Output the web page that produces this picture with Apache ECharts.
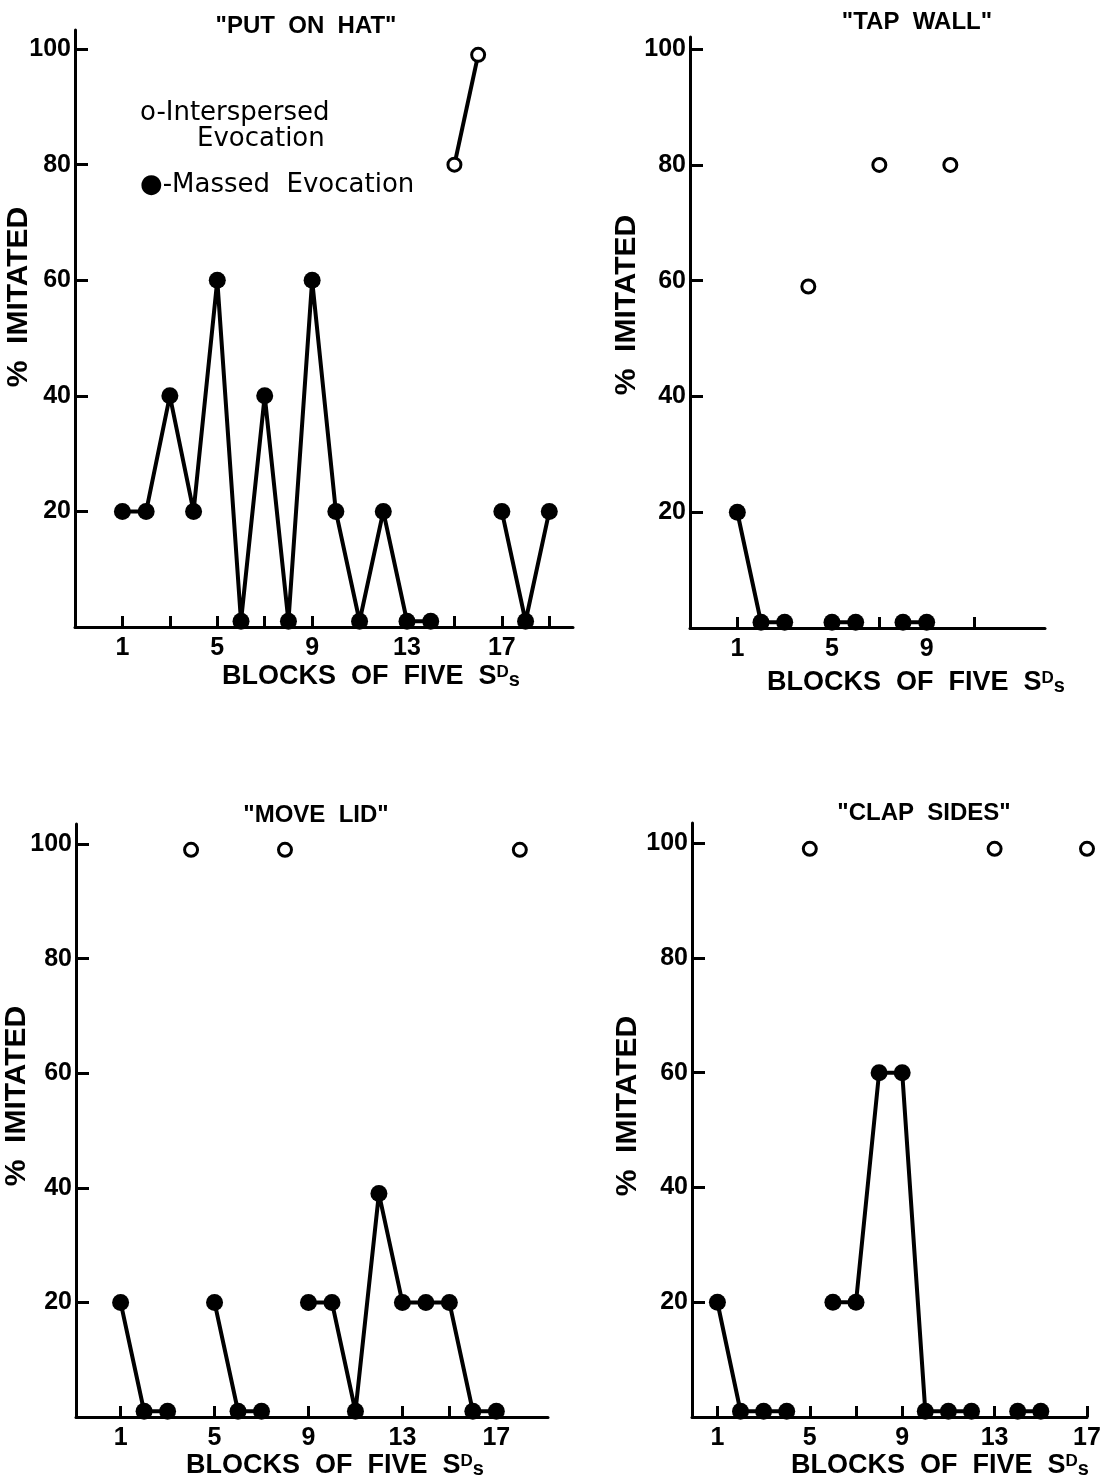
<!DOCTYPE html>
<html>
<head>
<meta charset="utf-8">
<title>% imitated, blocks of five SDs</title>
<script src="https://cdn.jsdelivr.net/npm/echarts@6/dist/echarts.min.js"></script>
<style>
  html, body { margin: 0; padding: 0; background: #fff; }
  #main { width: 1118px; height: 1482px; }
</style>
</head>
<body>
<div id="main"></div>
<script>
// % imitated in each block of five SDs (index 0 = block 1, null = no point)
var hatMassed  = [20, 20, 40, 20, 60, 1, 40, 1, 60, 20, 1, 20, 1, 1, null, null, 20, 1, 20];
var hatInter   = [null, null, null, null, null, null, null, null, null, null, null, null, null, null, 80, 99];

var wallMassed = [20, 1, 1, null, 1, 1, null, 1, 1];
var wallInter  = [null, null, null, 59, null, null, 80, null, null, 80];

var lidMassed  = [20, 1, 1, null, 20, 1, 1, null, 20, 20, 1, 39, 20, 20, 20, 1, 1];
var lidInter   = [null, null, null, 99, null, null, null, 99, null, null, null, null, null, null, null, null, null, 99];

var clapMassed = [20, 1, 1, 1, null, 20, 20, 60, 60, 1, 1, 1, null, 1, 1];
var clapInter  = [null, null, null, null, 99, null, null, null, null, null, null, null, 99, null, null, null, 99];

var titles = ['"PUT  ON  HAT"', '"TAP  WALL"', '"MOVE  LID"', '"CLAP  SIDES"'];

var yTicks = [20, 40, 60, 80, 100];
var hatXTicks  = [1, 3, 5, 7, 9, 11, 13, 15, 17, 19];
var hatXLabels = [1, 5, 9, 13, 17];
var wallXTicks  = [1, 3, 5, 7, 9, 11];
var wallXLabels = [1, 5, 9];
var lidXTicks  = [1, 3, 5, 7, 9, 11, 13, 15, 17];
var lidXLabels = [1, 5, 9, 13, 17];
var clapXTicks  = [1, 3, 5, 7, 9, 11, 13, 15, 17];
var clapXLabels = [1, 5, 9, 13, 17];

var FONT = 'Liberation Sans';

// where each panel sits on the page
var panels = [
  { grid: { left: 75, top: 30, width: 498, height: 597 }, xMin: -1, xMax: 20, yMax: 103.3,
    massed: hatMassed, inter: hatInter, xTicks: hatXTicks, xLabels: hatXLabels,
    title: [306, 26], yName: [19, 297], xName: [371, 677] },
  { grid: { left: 690, top: 37, width: 355, height: 591 }, xMin: -1, xMax: 14, yMax: 102.1,
    massed: wallMassed, inter: wallInter, xTicks: wallXTicks, xLabels: wallXLabels,
    title: [917, 22], yName: [627, 305], xName: [916, 683] },
  { grid: { left: 76, top: 824, width: 472, height: 593 }, xMin: -0.9, xMax: 19.2, yMax: 103.5,
    massed: lidMassed, inter: lidInter, xTicks: lidXTicks, xLabels: lidXLabels,
    title: [316, 815], yName: [17, 1096], xName: [335, 1466] },
  { grid: { left: 692, top: 823, width: 395, height: 594 }, xMin: -0.1, xMax: 17, yMax: 103.5,
    massed: clapMassed, inter: clapInter, xTicks: clapXTicks, xLabels: clapXLabels,
    title: [924, 813], yName: [628, 1106], xName: [940, 1466] }
];

function toPairs(arr) {
  return arr.map(function (v, i) { return [i + 1, v === null ? '-' : v]; });
}

var grids = [], xAxes = [], yAxes = [], series = [], graphics = [];

panels.forEach(function (p, i) {
  grids.push(p.grid);

  xAxes.push({
    type: 'value', gridIndex: i, min: p.xMin, max: p.xMax,
    axisLine: { show: true, onZero: false, lineStyle: { color: '#000', width: 3 } },
    axisTick: { show: true, inside: true, length: 11, customValues: p.xTicks, lineStyle: { color: '#000', width: 3 } },
    axisLabel: { customValues: p.xLabels, margin: 9, color: '#000', fontSize: 25, fontWeight: 'bold', fontFamily: FONT },
    splitLine: { show: false }
  });

  yAxes.push({
    type: 'value', gridIndex: i, min: 0, max: p.yMax,
    axisLine: { show: true, onZero: false, lineStyle: { color: '#000', width: 3 } },
    axisTick: { show: true, inside: true, length: 13, customValues: yTicks, lineStyle: { color: '#000', width: 3 } },
    axisLabel: { customValues: yTicks, margin: 4, color: '#000', fontSize: 25, fontWeight: 'bold', fontFamily: FONT },
    splitLine: { show: false }
  });

  series.push({
    name: 'Massed Evocation', type: 'line', xAxisIndex: i, yAxisIndex: i,
    data: toPairs(p.massed), connectNulls: false,
    symbol: 'circle', symbolSize: 17,
    itemStyle: { color: '#000' },
    lineStyle: { color: '#000', width: 4 },
    z: 3
  });
  series.push({
    name: 'Interspersed Evocation', type: 'line', xAxisIndex: i, yAxisIndex: i,
    data: toPairs(p.inter), connectNulls: false,
    symbol: 'circle', symbolSize: 13,
    itemStyle: { color: '#fff', borderColor: '#000', borderWidth: 3 },
    lineStyle: { color: '#000', width: 4 },
    z: 4
  });

  // panel title
  graphics.push({
    type: 'text', x: p.title[0], y: p.title[1],
    style: { text: titles[i], textAlign: 'center', textVerticalAlign: 'middle',
      fill: '#000', font: 'bold 24px "' + FONT + '"' }
  });
  // y name, reads bottom to top
  graphics.push({
    type: 'text', x: p.yName[0], y: p.yName[1], rotation: Math.PI / 2,
    style: { text: '%  IMITATED', textAlign: 'center', textVerticalAlign: 'middle',
      fill: '#000', font: 'bold 30px "' + FONT + '"' }
  });
  // x name with superscript D
  graphics.push({
    type: 'text', x: p.xName[0], y: p.xName[1],
    style: {
      text: '{m|BLOCKS  OF  FIVE  S}{d|D}{s|s}',
      textAlign: 'center', textVerticalAlign: 'middle', fill: '#000',
      rich: {
        m: { fontSize: 27, fontWeight: 'bold', fontFamily: FONT, verticalAlign: 'bottom' },
        d: { fontSize: 17, fontWeight: 'bold', fontFamily: FONT, verticalAlign: 'top' },
        s: { fontSize: 20, fontWeight: 'bold', fontFamily: FONT, verticalAlign: 'bottom' }
      }
    }
  });
});

// key inside the first panel
graphics.push(
  { type: 'text', x: 140, y: 113, style: { text: 'o-Interspersed', textVerticalAlign: 'middle', fill: '#000', font: '26px "DejaVu Sans"' } },
  { type: 'text', x: 197, y: 139, style: { text: 'Evocation', textVerticalAlign: 'middle', fill: '#000', font: '26px "DejaVu Sans"' } },
  { type: 'text', x: 140, y: 185, style: { text: '\u25CF-Massed  Evocation', textVerticalAlign: 'middle', fill: '#000', font: '26px "DejaVu Sans"' } }
);

var chart = echarts.init(document.getElementById('main'));
chart.setOption({
  backgroundColor: '#fff',
  animation: false,
  grid: grids,
  xAxis: xAxes,
  yAxis: yAxes,
  series: series,
  graphic: graphics
});
</script>
</body>
</html>
